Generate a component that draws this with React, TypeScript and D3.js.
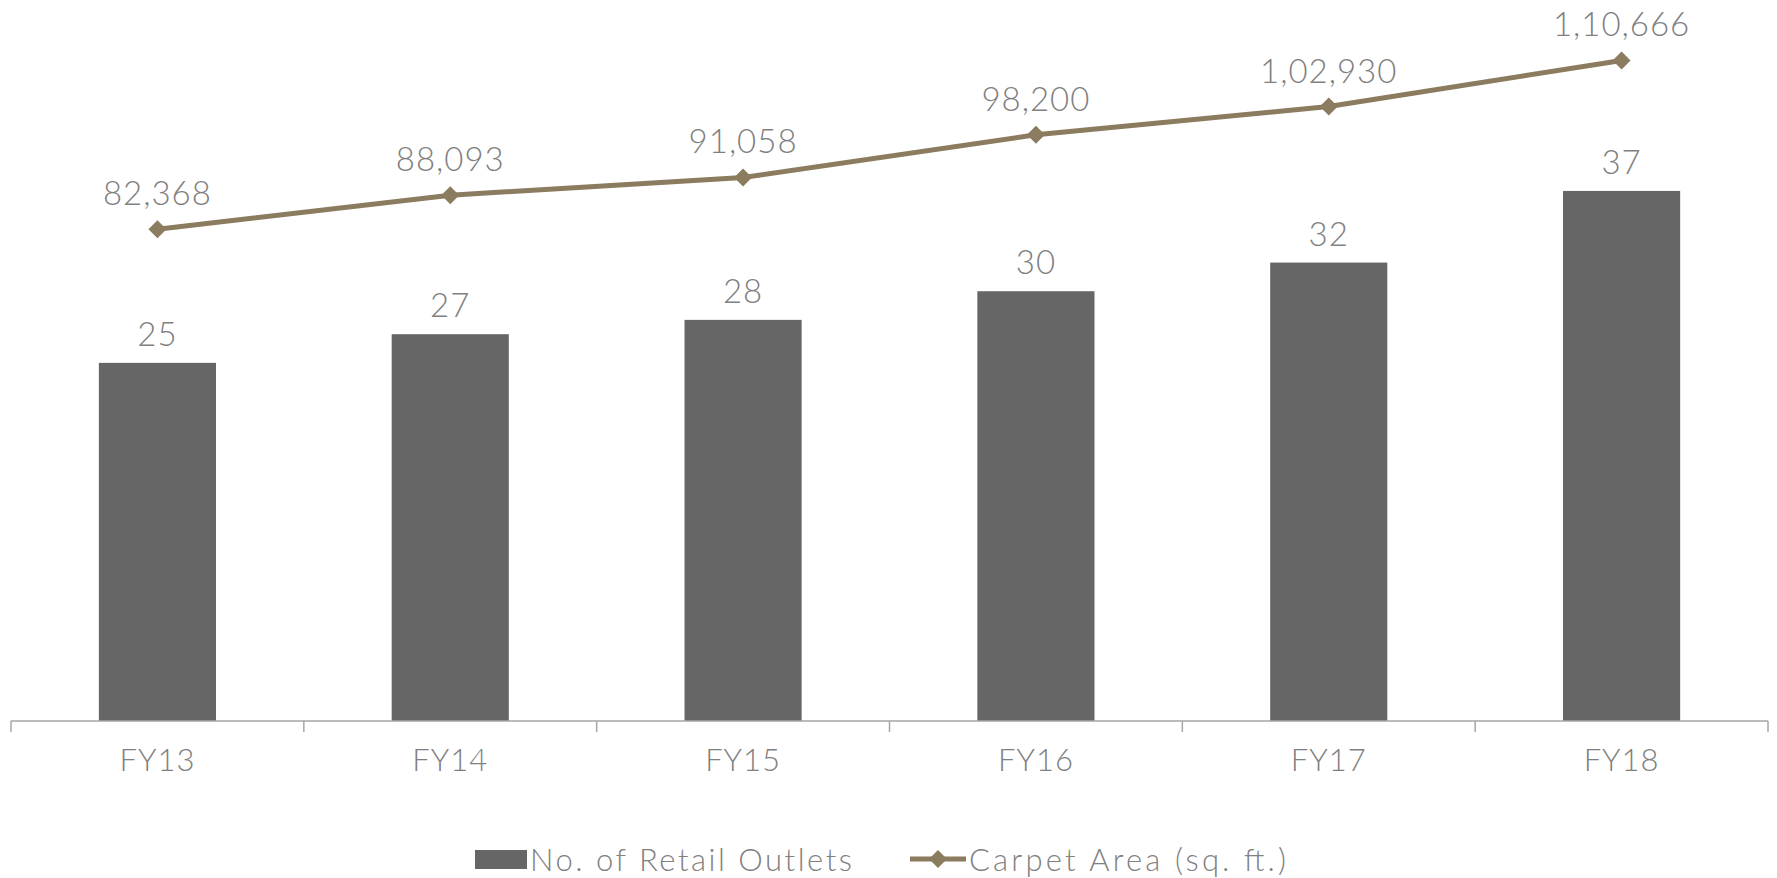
import React from "react";
import * as d3 from "d3";

const categories = ["FY13", "FY14", "FY15", "FY16", "FY17", "FY18"];
const outlets = [25, 27, 28, 30, 32, 37];
const carpetArea = [82368, 88093, 91058, 98200, 102930, 110666];
const carpetLabels = ["82,368", "88,093", "91,058", "98,200", "1,02,930", "1,10,666"];
const seriesNames = ["No. of Retail Outlets", "Carpet Area (sq. ft.)"];

const W = 1777;
const H = 878;
const left = 11;
const right = 1768;
const top = 4.7;
const bottom = 721;
const font = "Lato, 'Open Sans', sans-serif";
const textColor = "#808080";
const barColor = "#666666";
const lineColor = "#8B7B5F";
const axisColor = "#A6A6A6";

export default function App() {
  const x = d3.scaleBand<string>().domain(categories).range([left, right]).paddingInner(0.6).paddingOuter(0.3);
  const y = d3.scaleLinear().domain([0, 50]).range([bottom, top]);
  const y2 = d3.scaleLinear().domain([0, 120000]).range([bottom, top]);
  const step = x.step();
  const cx = (c: string) => (x(c) as number) + x.bandwidth() / 2;
  const line = d3
    .line<number>()
    .x((_, i) => cx(categories[i]))
    .y((d) => y2(d));
  const boundaries = d3.range(categories.length + 1).map((i) => left + i * step);
  const diamond = (px: number, py: number, r: number) =>
    `M${px},${py - r}L${px + r},${py}L${px},${py + r}L${px - r},${py}Z`;

  return (
    <svg width={W} height={H} style={{ position: "absolute", left: 0, top: 0 }} fontFamily={font}>
      <rect width={W} height={H} fill="#fff" />
      {categories.map((c, i) => (
        <rect key={c} x={x(c)} y={y(outlets[i])} width={x.bandwidth()} height={bottom - y(outlets[i])} fill={barColor} />
      ))}
      <line x1={left} x2={right} y1={bottom} y2={bottom} stroke={axisColor} strokeWidth={1.5} />
      {boundaries.map((b, i) => (
        <line key={i} x1={b} x2={b} y1={bottom} y2={bottom + 11} stroke={axisColor} strokeWidth={1.5} />
      ))}
      {categories.map((c) => (
        <text key={c} x={cx(c)} y={771} textAnchor="middle" fontSize={31} fill={textColor} fontWeight={300} letterSpacing={1}>
          {c}
        </text>
      ))}
      {categories.map((c, i) => (
        <text key={c} x={cx(c)} y={y(outlets[i]) - 17} textAnchor="middle" fontSize={33} fill={textColor} fontWeight={300} letterSpacing={1}>
          {outlets[i]}
        </text>
      ))}
      <path d={line(carpetArea) as string} fill="none" stroke={lineColor} strokeWidth={5} />
      {categories.map((c, i) => (
        <path key={c} d={diamond(cx(c), y2(carpetArea[i]), 9)} fill={lineColor} />
      ))}
      {categories.map((c, i) => (
        <text key={c} x={cx(c)} y={y2(carpetArea[i]) - 24} textAnchor="middle" fontSize={33} fill={textColor} fontWeight={300} letterSpacing={1}>
          {carpetLabels[i]}
        </text>
      ))}
      {/* legend */}
      <rect x={475} y={850} width={52} height={19} fill={barColor} />
      <text x={530} y={871} fontSize={31} fill={textColor} fontWeight={300} textLength={322} lengthAdjust="spacing">
        {seriesNames[0]}
      </text>
      <line x1={910} x2={966} y1={859} y2={859} stroke={lineColor} strokeWidth={5} />
      <path d={diamond(938, 859, 9)} fill={lineColor} />
      <text x={969} y={871} fontSize={31} fill={textColor} fontWeight={300} textLength={317} lengthAdjust="spacing">
        {seriesNames[1]}
      </text>
    </svg>
  );
}
